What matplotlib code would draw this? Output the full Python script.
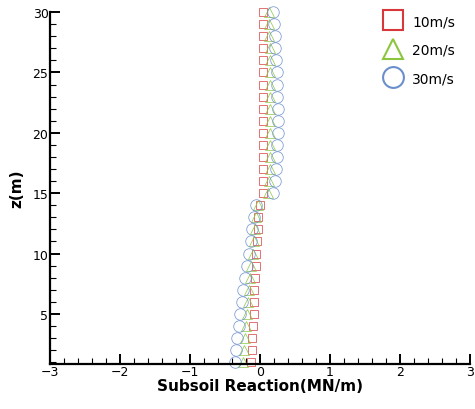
import numpy as np
import matplotlib.pyplot as plt
from matplotlib.lines import Line2D
from matplotlib.ticker import MultipleLocator

# profundidade (m)
z = np.arange(1, 31)

# reação do solo (MN/m) por velocidade de vento
v10 = [-0.12, -0.11, -0.11, -0.10, -0.09, -0.08, -0.08, -0.07, -0.06, -0.05,
       -0.04, -0.03, -0.02, 0.00, 0.05, 0.05, 0.05, 0.05, 0.05, 0.05,
       0.05, 0.05, 0.05, 0.05, 0.05, 0.05, 0.04, 0.04, 0.04, 0.04]
v20 = [-0.24, -0.23, -0.21, -0.20, -0.18, -0.17, -0.15, -0.14, -0.12, -0.10,
       -0.09, -0.07, -0.05, -0.03, 0.12, 0.13, 0.14, 0.14, 0.15, 0.15,
       0.15, 0.15, 0.15, 0.15, 0.14, 0.14, 0.14, 0.13, 0.13, 0.13]
v30 = [-0.35, -0.34, -0.32, -0.30, -0.28, -0.26, -0.24, -0.21, -0.19, -0.16,
       -0.13, -0.11, -0.08, -0.06, 0.19, 0.21, 0.23, 0.24, 0.25, 0.26,
       0.26, 0.26, 0.25, 0.25, 0.24, 0.23, 0.22, 0.21, 0.20, 0.19]
labels = ['10m/s', '20m/s', '30m/s']

series = [
    (v10, 's', '#d9383a', 6.3),
    (v20, '^', '#8cc63f', 7.0),
    (v30, 'o', '#6a8fcc', 8.3),
]

fig = plt.figure(figsize=(4.75, 4.1), dpi=100)
ax = fig.add_axes([0.105, 0.110, 0.884, 0.858])

for vals, mk, col, ms in series:
    ax.plot(vals, z, linestyle='none', marker=mk, markersize=ms, clip_on=False,
            markerfacecolor='none', markeredgecolor=col, markeredgewidth=0.55,
            alpha=0.9)

ax.set_xlim(-3, 3)
ax.set_ylim(0.86, 30)
ax.xaxis.set_major_locator(MultipleLocator(1))
ax.xaxis.set_minor_locator(MultipleLocator(0.2))
ax.yaxis.set_major_locator(MultipleLocator(5))
ax.yaxis.set_minor_locator(MultipleLocator(1))

ax.spines['top'].set_visible(False)
ax.spines['right'].set_visible(False)
ax.spines['left'].set_linewidth(1.6)
ax.spines['bottom'].set_linewidth(1.6)
ax.tick_params(which='major', direction='in', length=7, width=1.4, labelsize=9, pad=1)
ax.tick_params(which='minor', direction='in', length=4, width=0.8)

ax.set_xlabel('Subsoil Reaction(MN/m)', fontsize=11, fontweight='bold', labelpad=0)
ax.set_ylabel('z(m)', fontsize=11, fontweight='bold', labelpad=6)

handles = [Line2D([], [], linestyle='none', marker=mk, markersize=15,
                  markerfacecolor='none', markeredgecolor=col, markeredgewidth=1.5)
           for vals, mk, col, ms in series]
ax.legend(handles, labels, loc='upper right', bbox_to_anchor=(0.995, 1.03),
          frameon=False, fontsize=10, handletextpad=0.6, labelspacing=1.05,
          handlelength=1.6)

plt.savefig('out.png', dpi=100)
